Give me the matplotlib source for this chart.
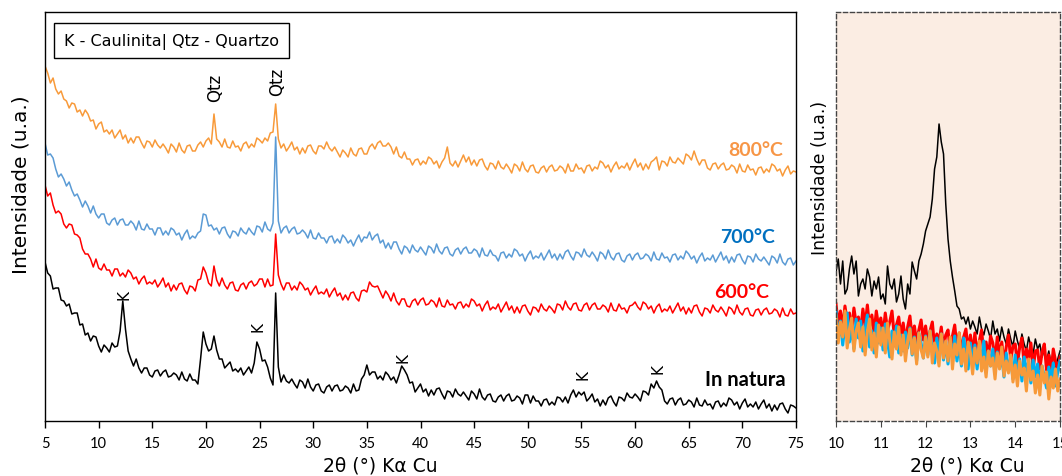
import numpy as np
import matplotlib
matplotlib.use('Agg')
import matplotlib.pyplot as plt

# 2theta scan grid (main plot, 0.25 deg step) and zoom grid (0.05 deg step)
two_theta = np.linspace(5, 75, 281)
two_theta_zoom = np.linspace(10, 15, 101)

# intensities (a.u., stacked as in the figure), rows of 2 deg
in_natura = [
    159, 148, 145, 132, 133, 133, 121, 120,
    115, 117, 107, 108, 108, 96, 97, 86,
    88, 80, 85, 84, 75, 69, 76, 73,
    69, 78, 74, 75, 90, 120, 92, 70,
    62, 55, 62, 53, 48, 53, 53, 46,
    44, 50, 51, 45, 49, 51, 44, 45,
    48, 46, 41, 49, 42, 40, 47, 41,
    41, 37, 62, 89, 77, 70, 72, 85,
    71, 62, 62, 53, 56, 59, 50, 52,
    49, 53, 46, 50, 54, 48, 58, 79,
    72, 60, 61, 54, 43, 36, 128, 54,
    39, 46, 40, 38, 42, 37, 33, 41,
    39, 33, 42, 34, 30, 36, 37, 30,
    28, 34, 36, 30, 35, 36, 30, 31,
    35, 33, 28, 37, 30, 31, 42, 46,
    56, 46, 49, 49, 42, 45, 41, 49,
    46, 41, 44, 38, 46, 55, 51, 46,
    38, 39, 29, 33, 37, 29, 32, 25,
    31, 26, 32, 33, 27, 22, 30, 29,
    24, 32, 27, 25, 29, 25, 21, 30,
    27, 22, 32, 24, 21, 26, 27, 20,
    19, 24, 26, 20, 25, 27, 20, 21,
    25, 23, 17, 26, 26, 18, 25, 20,
    20, 15, 21, 22, 16, 19, 16, 24,
    23, 19, 24, 18, 26, 31, 24, 29,
    26, 29, 20, 23, 27, 19, 22, 15,
    21, 16, 23, 25, 19, 15, 24, 23,
    20, 28, 24, 23, 27, 24, 20, 30,
    29, 26, 37, 33, 40, 34, 31, 20,
    17, 22, 23, 16, 21, 23, 16, 17,
    21, 19, 14, 23, 16, 15, 21, 16,
    17, 12, 19, 20, 14, 18, 15, 23,
    21, 16, 19, 12, 18, 22, 14, 17,
    14, 19, 12, 17, 21, 13, 17, 10,
    16, 11, 17, 18, 12, 8, 16, 15,
    13]

c600 = [
    236, 225, 228, 216, 208, 210, 207, 197,
    193, 197, 196, 187, 186, 183, 172, 167,
    167, 162, 154, 162, 153, 151, 157, 151,
    151, 145, 152, 152, 145, 148, 144, 151,
    148, 142, 144, 137, 142, 145, 137, 139,
    137, 141, 134, 138, 143, 134, 138, 130,
    136, 131, 137, 138, 131, 127, 135, 134,
    130, 141, 142, 154, 148, 138, 135, 155,
    141, 135, 143, 136, 132, 138, 139, 131,
    130, 136, 138, 132, 138, 140, 135, 137,
    142, 142, 134, 142, 135, 136, 187, 146,
    137, 131, 138, 138, 131, 135, 131, 139,
    136, 131, 133, 126, 131, 135, 127, 129,
    127, 132, 124, 129, 133, 125, 128, 121,
    126, 121, 128, 129, 123, 120, 130, 131,
    129, 139, 135, 134, 135, 129, 123, 130,
    126, 120, 128, 120, 116, 122, 122, 115,
    114, 120, 122, 116, 121, 123, 116, 117,
    121, 119, 114, 123, 115, 114, 121, 116,
    117, 112, 118, 119, 113, 117, 114, 122,
    120, 115, 117, 110, 116, 120, 111, 114,
    112, 117, 109, 114, 119, 111, 115, 108,
    114, 108, 115, 116, 110, 106, 114, 113,
    109, 117, 112, 110, 115, 112, 108, 117,
    116, 111, 120, 114, 111, 117, 118, 111,
    110, 116, 118, 111, 116, 118, 112, 112,
    116, 114, 109, 118, 111, 110, 117, 112,
    113, 108, 115, 116, 119, 114, 111, 119,
    117, 112, 115, 108, 114, 117, 109, 112,
    110, 115, 108, 113, 118, 110, 114, 107,
    113, 108, 115, 116, 109, 105, 113, 112,
    108, 116, 111, 109, 114, 110, 105, 114,
    112, 107, 116, 109, 106, 112, 113, 106,
    105, 111, 112, 106, 111, 113, 107, 108,
    112, 110, 104, 113, 106, 105, 112, 107,
    108]

c700 = [
    278, 266, 267, 263, 252, 244, 247, 242,
    235, 239, 231, 225, 227, 221, 214, 220,
    215, 208, 215, 207, 203, 207, 207, 198,
    196, 201, 203, 196, 201, 202, 196, 196,
    200, 197, 191, 200, 192, 191, 197, 192,
    192, 186, 193, 193, 186, 190, 186, 193,
    191, 186, 188, 181, 187, 191, 182, 185,
    183, 188, 190, 207, 206, 195, 196, 191,
    193, 187, 193, 194, 187, 183, 190, 189,
    185, 193, 189, 187, 193, 189, 186, 195,
    194, 189, 199, 192, 190, 198, 284, 200,
    188, 193, 195, 188, 192, 194, 187, 188,
    191, 188, 183, 191, 183, 182, 188, 183,
    183, 178, 184, 185, 178, 182, 178, 186,
    183, 178, 181, 175, 181, 186, 179, 184,
    183, 189, 181, 185, 187, 178, 181, 173,
    178, 172, 179, 179, 172, 167, 175, 173,
    168, 176, 171, 169, 174, 170, 166, 175,
    173, 168, 177, 170, 167, 173, 174, 167,
    165, 171, 173, 167, 172, 174, 168, 168,
    172, 170, 164, 173, 166, 165, 171, 166,
    165, 160, 168, 169, 163, 167, 164, 172,
    170, 165, 167, 160, 166, 170, 162, 165,
    163, 168, 161, 166, 171, 163, 167, 161,
    167, 162, 169, 171, 165, 161, 169, 168,
    164, 172, 166, 164, 169, 165, 160, 169,
    167, 162, 171, 164, 161, 167, 168, 161,
    159, 165, 167, 161, 166, 168, 162, 163,
    167, 165, 160, 169, 162, 161, 168, 163,
    164, 159, 166, 167, 161, 165, 162, 170,
    167, 162, 165, 158, 164, 168, 160, 163,
    161, 166, 159, 164, 169, 161, 165, 158,
    164, 159, 166, 167, 161, 157, 165, 164,
    159, 167, 162, 160, 164, 160, 156, 165,
    163, 158, 167, 159, 156, 162, 163, 156,
    160]

c800 = [
    355, 348, 338, 343, 332, 327, 330, 322,
    320, 313, 318, 317, 309, 311, 305, 311,
    307, 300, 301, 292, 297, 299, 289, 291,
    287, 291, 283, 287, 291, 282, 286, 278,
    283, 278, 284, 284, 278, 273, 280, 279,
    274, 281, 276, 273, 277, 273, 268, 277,
    274, 269, 278, 271, 268, 275, 276, 270,
    270, 276, 279, 274, 280, 283, 277, 307,
    282, 279, 274, 282, 274, 273, 280, 274,
    275, 270, 277, 279, 273, 277, 274, 283,
    281, 278, 283, 280, 288, 289, 317, 282,
    273, 277, 270, 274, 279, 271, 274, 267,
    273, 268, 275, 276, 270, 267, 275, 275,
    272, 279, 273, 270, 274, 269, 264, 271,
    268, 264, 273, 267, 265, 272, 273, 267,
    267, 274, 277, 272, 278, 280, 275, 275,
    278, 274, 267, 274, 265, 263, 269, 262,
    262, 256, 261, 262, 256, 260, 257, 264,
    262, 257, 260, 253, 259, 263, 274, 258,
    255, 260, 254, 260, 266, 259, 264, 256,
    261, 255, 261, 262, 255, 251, 258, 257,
    252, 260, 254, 252, 257, 253, 248, 257,
    255, 250, 259, 252, 249, 255, 256, 249,
    248, 253, 255, 249, 254, 256, 250, 251,
    255, 253, 248, 257, 250, 250, 257, 252,
    253, 248, 255, 256, 250, 254, 252, 260,
    258, 253, 256, 249, 255, 259, 252, 255,
    253, 258, 251, 257, 262, 254, 258, 251,
    257, 252, 259, 261, 264, 251, 260, 259,
    255, 264, 259, 258, 263, 260, 257, 267,
    265, 261, 270, 262, 256, 261, 261, 253,
    251, 257, 258, 252, 256, 258, 251, 252,
    256, 254, 248, 257, 250, 249, 256, 251,
    252, 246, 253, 254, 248, 252, 249, 257,
    255, 250, 252, 245, 251, 255, 247, 250,
    249]

# zoom 10-15 deg, not stacked
zoom_natura = [
    149, 162, 137, 160, 127, 132, 152, 165, 147, 160,
    125, 137, 142, 132, 152, 144, 125, 140, 132, 144,
    122, 127, 117, 155, 137, 132, 142, 119, 127, 145,
    122, 112, 137, 127, 159, 150, 142, 160, 167, 177,
    190, 197, 204, 222, 252, 264, 297, 279, 267, 217,
    182, 160, 144, 130, 115, 112, 102, 104, 97, 104,
    92, 100, 94, 87, 104, 92, 86, 97, 90, 82,
    100, 87, 92, 80, 94, 84, 77, 92, 82, 74,
    90, 80, 72, 87, 77, 70, 84, 74, 67, 82,
    72, 77, 64, 72, 60, 70, 57, 67, 54, 62,
    70]
zoom_600 = [
    117, 96, 110, 92, 115, 99, 108, 90, 113, 97,
    104, 89, 112, 95, 116, 93, 106, 88, 110, 94,
    103, 86, 108, 91, 99, 110, 85, 96, 104, 84,
    98, 80, 94, 105, 83, 95, 78, 91, 101, 81,
    95, 76, 90, 99, 74, 87, 79, 94, 72, 86,
    91, 70, 85, 96, 73, 88, 68, 84, 92, 70,
    86, 67, 88, 65, 80, 91, 66, 79, 63, 85,
    78, 60, 84, 64, 79, 58, 74, 86, 61, 75,
    77, 57, 74, 83, 56, 72, 62, 78, 52, 70,
    71, 52, 69, 77, 51, 66, 48, 72, 60, 50,
    64]
zoom_700 = [
    110, 82, 100, 76, 97, 108, 79, 94, 72, 102,
    83, 100, 70, 92, 106, 74, 90, 68, 98, 78,
    93, 71, 97, 80, 64, 90, 75, 95, 68, 86,
    70, 89, 73, 93, 66, 84, 60, 88, 78, 63,
    85, 66, 90, 70, 58, 83, 65, 87, 61, 79,
    57, 80, 64, 85, 60, 76, 55, 83, 68, 52,
    78, 58, 76, 52, 73, 60, 80, 49, 70, 55,
    72, 48, 69, 53, 66, 44, 68, 51, 63, 42,
    66, 45, 62, 40, 64, 48, 60, 38, 61, 44,
    57, 36, 55, 44, 33, 54, 41, 58, 35, 49,
    60]
zoom_800 = [
    105, 78, 99, 84, 110, 73, 92, 103, 70, 90,
    98, 74, 94, 66, 89, 102, 71, 88, 64, 96,
    76, 93, 68, 98, 80, 62, 89, 72, 94, 66,
    86, 60, 80, 92, 67, 83, 57, 88, 71, 63,
    84, 64, 90, 58, 78, 70, 55, 87, 63, 80,
    60, 84, 52, 77, 66, 88, 57, 72, 50, 79,
    68, 47, 73, 58, 80, 50, 64, 44, 70, 55,
    63, 42, 68, 52, 74, 45, 60, 48, 66, 39,
    56, 35, 60, 46, 53, 30, 62, 41, 50, 28,
    46, 26, 55, 38, 49, 22, 44, 33, 52, 30,
    42]

k_pos = [12.36, 24.85, 38.36, 55.14, 62.13]
k_height = [127, 95, 64, 47, 53]
qtz_pos = [20.84, 26.62]
qtz_height = [334, 340]

label_font = 'DejaVu Sans'

fig = plt.figure(figsize=(10.62, 4.77), dpi=100)

# main panel
ax = fig.add_axes([45 / 1062, 1 - 422 / 477, 751 / 1062, 409 / 477])
ax.plot(two_theta, c800, color='#F89A3A', lw=1.1)
ax.plot(two_theta, c700, color='#5B9BD5', lw=1.1)
ax.plot(two_theta, c600, color='#FF0000', lw=1.1)
ax.plot(two_theta, in_natura, color='black', lw=1.1)
ax.set_xlim(5, 75)
ax.set_ylim(0, 409)
ax.set_yticks([])
ax.set_xticks(np.arange(5, 76, 5))
ax.tick_params(axis='x', direction='out', length=5, width=1, pad=6)
for lab in ax.get_xticklabels():
    lab.set_fontfamily('Lato')
    lab.set_fontsize(10.5)
for sp in ax.spines.values():
    sp.set_linewidth(1.0)
ax.set_xlabel('2θ (°) Kα Cu', fontsize=13.5, family=label_font, va='center')
ax.xaxis.set_label_coords(0.447, -0.108)
ax.set_ylabel('Intensidade (u.a.)', fontsize=14.5, family=label_font, va='center')
ax.yaxis.set_label_coords(-0.032, 0.58)

ax.text(0.0253, 0.930, 'K - Caulinita| Qtz - Quartzo', transform=ax.transAxes,
        fontsize=11.5, family=label_font, va='center', ha='left',
        bbox=dict(boxstyle='square,pad=0.6', fc='white', ec='black', lw=1))

for xp, yp in zip(k_pos, k_height):
    ax.text(xp, yp, 'K', rotation=90, ha='center', va='center',
            fontsize=11, family=label_font)
for xp, yp in zip(qtz_pos, qtz_height):
    ax.text(xp, yp, 'Qtz', rotation=90, ha='center', va='center',
            fontsize=12, family=label_font)

ax.text(73.78, 272, '800°C', color='#F79646', ha='right', va='center',
        fontsize=14, fontweight='bold', family='Lato')
ax.text(73.0, 184, '700°C', color='#0070C0', ha='right', va='center',
        fontsize=14, fontweight='bold', family='Lato')
ax.text(72.5, 130, '600°C', color='#FF0000', ha='right', va='center',
        fontsize=14, fontweight='bold', family='Lato')
ax.text(74.05, 42, 'In natura', color='black', ha='right', va='center',
        fontsize=14.5, fontweight='bold', family='Lato')

# zoom panel 10-15 deg
ax2 = fig.add_axes([836 / 1062, 1 - 422 / 477, 224 / 1062, 409 / 477])
ax2.set_facecolor('#FBEDE3')
ax2.plot(two_theta_zoom, zoom_natura, color='black', lw=1.1)
ax2.plot(two_theta_zoom, zoom_600, color='#FF0000', lw=2.2)
ax2.plot(two_theta_zoom, zoom_700, color='#00B0F0', lw=2.2)
ax2.plot(two_theta_zoom, zoom_800, color='#F79A3A', lw=2.2)
ax2.set_xlim(10, 15)
ax2.set_ylim(0, 409)
ax2.set_yticks([])
ax2.set_xticks([10, 11, 12, 13, 14, 15])
ax2.tick_params(axis='x', direction='out', length=4, width=0.8, pad=7,
                color='#444444')
for lab in ax2.get_xticklabels():
    lab.set_fontfamily('Lato')
    lab.set_fontsize(10.5)
for sp in ax2.spines.values():
    sp.set_linestyle((0, (3, 2)))
    sp.set_linewidth(1.0)
    sp.set_color('#444444')
ax2.set_xlabel('2θ (°) Kα Cu', fontsize=13.5, family=label_font, va='center')
ax2.xaxis.set_label_coords(0.585, -0.108)
ax2.set_ylabel('Intensidade (u.a.)', fontsize=12.5, family=label_font, va='center')
ax2.yaxis.set_label_coords(-0.07, 0.597)

fig.savefig('out.png', dpi=100)
